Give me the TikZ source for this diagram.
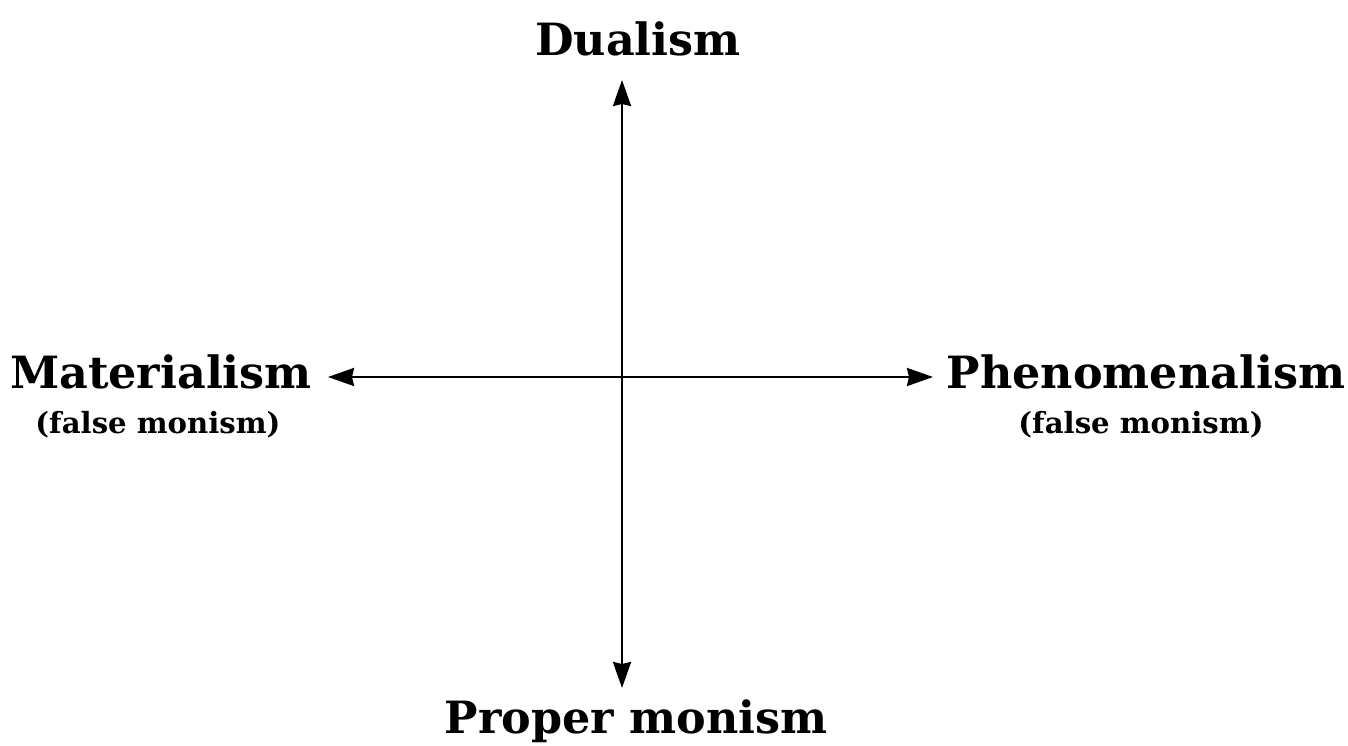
\documentclass[tikz,border=0pt]{standalone}
\usepackage{fontspec}
\setmainfont{DejaVu Serif}
\usetikzlibrary{arrows.meta}

\begin{document}
\begin{tikzpicture}[x=0.02cm, y=-0.02cm, >={Stealth[length=0.52cm,width=0.36cm,inset=0.04cm]},
  big/.style={font=\fontsize{25.3}{30}\selectfont\bfseries, inner sep=0pt, anchor=base},
  sub/.style={font=\fontsize{16.6}{20}\selectfont\bfseries, inner sep=0pt, anchor=base},
  axis/.style={line width=0.05cm}]
\useasboundingbox (0,0) rectangle (1348,746);
\node[big] (dual) at (638,56) {Dualism};
\node[big] (prop) at (636,733) {Proper monism};
\node[big] (mat) at (161,388) {Materialism};
\node[sub] (matsub) at (158,433) {(false monism)};
\node[big] (phen) at (1146,388) {Phenomenalism};
\node[sub] (phensub) at (1141,433) {(false monism)};
% axes
\coordinate (t) at (622,80);
\coordinate (b) at (622,688);
\coordinate (l) at (328,377);
\coordinate (r) at (933,377);
\draw[axis,<->] (b) -- (t);
\draw[axis,<->] (l) -- (r);
\end{tikzpicture}
\end{document}
